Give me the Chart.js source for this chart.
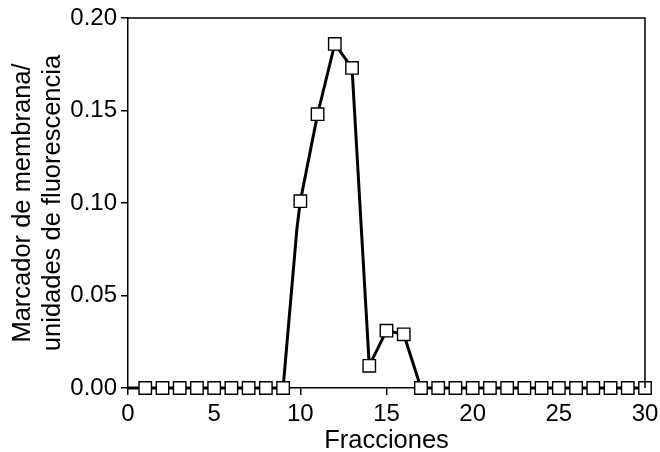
<!DOCTYPE html>
<html>
<head>
<meta charset="utf-8">
<script src="https://cdn.jsdelivr.net/npm/chart.js@4.4.1/dist/chart.umd.min.js"></script>
<style>
  body { margin: 0; background: #fff; }
  #wrap { width: 660px; height: 452px; }
</style>
</head>
<body>
<div id="wrap"><canvas id="chart" width="660" height="452"></canvas></div>
<script>
// fractions and fluorescence
const fractions = [0, 1, 2, 3, 4, 5, 6, 7, 8, 9, 9.8, 10, 11, 12, 13, 14, 15, 16, 17, 18, 19, 20, 21, 22, 23, 24, 25, 26, 27, 28, 29, 30];
const fluorescence = [0, 0, 0, 0, 0, 0, 0, 0, 0, 0, 0.086, 0.101, 0.148, 0.186, 0.173, 0.012, 0.031, 0.029, 0, 0, 0, 0, 0, 0, 0, 0, 0, 0, 0, 0, 0, 0];
const hasMarker = [false, true, true, true, true, true, true, true, true, true, false, true, true, true, true, true, true, true, true, true, true, true, true, true, true, true, true, true, true, true, true, true];
const xTicks = [0, 5, 10, 15, 20, 25, 30];
const yTicks = [0, 0.05, 0.10, 0.15, 0.20];

const font = "'Liberation Sans', Arial, sans-serif";

// draws the top and right sides of the frame
const frame = {
  id: "frame",
  afterDraw(chart) {
    const a = chart.chartArea;
    const ctx = chart.ctx;
    ctx.save();
    ctx.strokeStyle = "#000";
    ctx.lineWidth = 1.5;
    ctx.beginPath();
    ctx.moveTo(a.left, a.top);
    ctx.lineTo(a.right, a.top);
    ctx.lineTo(a.right, a.bottom);
    ctx.stroke();
    ctx.restore();
  }
};

const points = fractions.map((x, i) => ({ x, y: fluorescence[i] }));

new Chart(document.getElementById("chart").getContext("2d"), {
  type: "scatter",
  data: {
    datasets: [{
      data: points,
      showLine: true,
      borderColor: "#000",
      borderWidth: 3,
      tension: 0,
      pointStyle: "rect",
      pointRadius: ctx => hasMarker[ctx.dataIndex] ? 8.8 : 0,
      pointBackgroundColor: "#fff",
      pointBorderColor: "#000",
      pointBorderWidth: 1.4,
      clip: false
    }]
  },
  options: {
    responsive: false,
    animation: false,
    layout: { padding: { left: 0, top: 18, right: 15, bottom: 0 } },
    plugins: { legend: { display: false }, tooltip: { enabled: false } },
    scales: {
      x: {
        type: "linear",
        min: 0,
        max: 30,
        afterBuildTicks: s => { s.ticks = xTicks.map(v => ({ value: v })); },
        afterFit: s => { s.height = 64; s.paddingLeft = 0; s.paddingRight = 0; },
        ticks: { color: "#000", font: { family: font, size: 24 }, padding: 5 },
        grid: { drawOnChartArea: false, tickLength: 7, color: "#000", lineWidth: 1.5 },
        border: { color: "#000", width: 1.5 },
        title: { display: true, text: "Fracciones", color: "#000", font: { family: font, size: 25.5, lineHeight: 1 }, padding: { top: 0, bottom: -2 } }
      },
      y: {
        min: 0,
        max: 0.2,
        afterBuildTicks: s => { s.ticks = yTicks.map(v => ({ value: v })); },
        afterFit: s => { s.width = 128; s.paddingTop = 0; s.paddingBottom = 0; },
        ticks: { color: "#000", font: { family: font, size: 24 }, padding: 4, callback: v => v.toFixed(2) },
        grid: { drawOnChartArea: false, tickLength: 7, color: "#000", lineWidth: 1.5 },
        border: { color: "#000", width: 1.5 },
        title: {
          display: true,
          text: ["Marcador de membrana/", "unidades de fluorescencia"],
          color: "#000",
          font: { family: font, size: 25.5, lineHeight: 1.18 },
          padding: { top: 8, bottom: 0 }
        }
      }
    }
  },
  plugins: [frame]
});
</script>
</body>
</html>
